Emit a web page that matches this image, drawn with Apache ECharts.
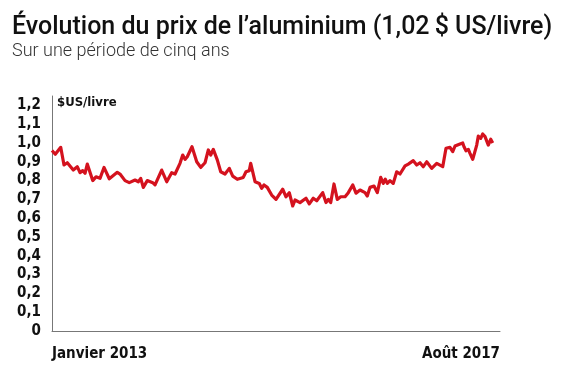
<!DOCTYPE html>
<html>
<head>
<meta charset="utf-8">
<script src="https://cdn.jsdelivr.net/npm/echarts@6/dist/echarts.min.js"></script>
<style>
  html, body { margin: 0; padding: 0; background: #fff; }
  #chart { width: 570px; height: 380px; }
</style>
</head>
<body>
<div id="chart"></div>
<script>
// Months elapsed since January 2013 (0 = Janvier 2013, 56 = end of Août 2017)
var months = [0, 0.41, 1.09, 1.5, 1.91, 2.66, 3.16, 3.5, 3.84, 4.13, 4.41, 5.09, 5.5, 6.0, 6.5, 7.16, 8.16, 8.5, 9.13, 9.66,
  10.38, 10.79, 11.09, 11.41, 11.91, 12.59, 12.88, 13.71, 14.34, 14.96, 15.38, 16.0, 16.34, 16.63, 16.91, 17.16, 17.5, 18.09, 18.59, 19.13,
  19.54, 19.84, 20.16, 20.66, 21.09, 21.63, 22.16, 22.59, 23.16, 23.91, 24.25, 24.66, 24.84, 25.38, 25.91, 26.21, 26.5, 26.91, 27.46, 28.0,
  28.84, 29.25, 29.66, 30.09, 30.38, 31.0, 31.75, 32.16, 32.66, 33.09, 33.84, 34.25, 34.54, 34.84, 35.25, 35.66, 36.09, 36.63, 37.04, 37.59,
  38.0, 38.5, 39.13, 39.41, 39.75, 40.25, 40.66, 41.09, 41.41, 41.66, 41.91, 42.25, 42.66, 43.09, 43.5, 44.13, 44.54, 45.16, 45.59, 46.0,
  46.41, 46.84, 47.46, 48.09, 48.84, 49.25, 49.75, 50.09, 50.38, 51.0, 51.34, 51.5, 51.75, 52.04, 52.25, 52.59, 53.09, 53.29, 53.59, 53.84,
  54.13, 54.54, 54.84, 55.09];
// Aluminium price, $US per pound
var prices = [0.96, 0.94, 0.977, 0.883, 0.895, 0.856, 0.874, 0.842, 0.853, 0.839, 0.888, 0.80, 0.82, 0.812, 0.87, 0.81, 0.844, 0.835, 0.80, 0.789,
  0.803, 0.794, 0.812, 0.764, 0.80, 0.789, 0.777, 0.856, 0.794, 0.842, 0.835, 0.892, 0.936, 0.913, 0.927, 0.918, 0.98, 0.90, 0.87, 0.895,
  0.963, 0.936, 0.966, 0.91, 0.847, 0.835, 0.865, 0.824, 0.807, 0.817, 0.847, 0.853, 0.892, 0.794, 0.785, 0.759, 0.777, 0.764, 0.723, 0.70,
  0.754, 0.714, 0.736, 0.665, 0.697, 0.683, 0.706, 0.676, 0.706, 0.693, 0.736, 0.683, 0.70, 0.683, 0.782, 0.70, 0.714, 0.714, 0.736, 0.777,
  0.733, 0.75, 0.736, 0.718, 0.764, 0.771, 0.736, 0.817, 0.785, 0.807, 0.785, 0.80, 0.785, 0.847, 0.835, 0.878, 0.888, 0.906, 0.883, 0.895,
  0.874, 0.90, 0.865, 0.892, 0.874, 0.972, 0.977, 0.954, 0.984, 0.995, 1.00, 0.98, 0.959, 0.966, 0.945, 0.913, 0.989, 1.037, 1.025, 1.048,
  1.034, 0.989, 1.02, 1.00];
var xLabels = { 0: 'Janvier 2013', 56: 'Août 2017' };
var yTicks = [0, 0.1, 0.2, 0.3, 0.4, 0.5, 0.6, 0.7, 0.8, 0.9, 1.0, 1.1, 1.2];

var titleText = 'Évolution du prix de l\u2019aluminium (1,02\u2009$ US/livre)';
var subtitleText = 'Sur une période de cinq ans';
var unitText = '$US/livre';

var narrow = '"Liberation Sans Narrow", "DejaVu Sans Condensed", "Roboto", sans-serif';

var chart = echarts.init(document.getElementById('chart'), null, { renderer: 'canvas' });
var seriesData = months.map(function (m, i) { return [m, prices[i]]; });

chart.setOption({
  backgroundColor: '#ffffff',
  animation: false,
  title: [{
    text: titleText,
    left: 7, top: 10,
    textStyle: { fontFamily: 'Roboto', fontWeight: 500, fontSize: 25, color: '#111' }
  }, {
    text: subtitleText,
    left: 7, top: 37,
    textStyle: { fontFamily: 'Roboto', fontWeight: 300, fontSize: 18, color: '#333' }
  }],
  graphic: [{
    type: 'text', left: 57, top: 96,
    style: { text: unitText, font: 'bold 13px ' + narrow, fill: '#111' }
  }],
  grid: { left: 52, right: 70, top: 96, bottom: 49, containLabel: false },
  xAxis: {
    type: 'value', min: 0, max: 56, interval: 56,
    axisLine: { show: true, lineStyle: { color: '#777', width: 1 } },
    axisTick: { show: false },
    splitLine: { show: false },
    axisLabel: {
      show: true, margin: 16,
      alignMinLabel: 'left', alignMaxLabel: 'right',
      formatter: function (v) { return xLabels[v] || ''; },
      fontFamily: narrow, fontWeight: 'bold', fontSize: 15, color: '#111'
    }
  },
  yAxis: {
    type: 'value', min: 0, max: 1.25, interval: 0.1,
    axisLine: { show: true, lineStyle: { color: '#777', width: 1 } },
    axisTick: { show: false },
    splitLine: { show: false },
    axisLabel: {
      showMaxLabel: false, margin: 11,
      formatter: function (v) {
        var t = yTicks.filter(function (k) { return Math.abs(k - v) < 1e-6; });
        if (!t.length) return '';
        return v === 0 ? '0' : v.toFixed(1).replace('.', ',');
      },
      fontFamily: narrow, fontWeight: 'bold', fontSize: 15, color: '#111'
    }
  },
  series: [{
    type: 'line',
    data: seriesData,
    showSymbol: false,
    lineStyle: { color: '#d4121e', width: 3.2, join: 'round' },
    itemStyle: { color: '#d4121e' }
  }]
});
</script>
</body>
</html>
